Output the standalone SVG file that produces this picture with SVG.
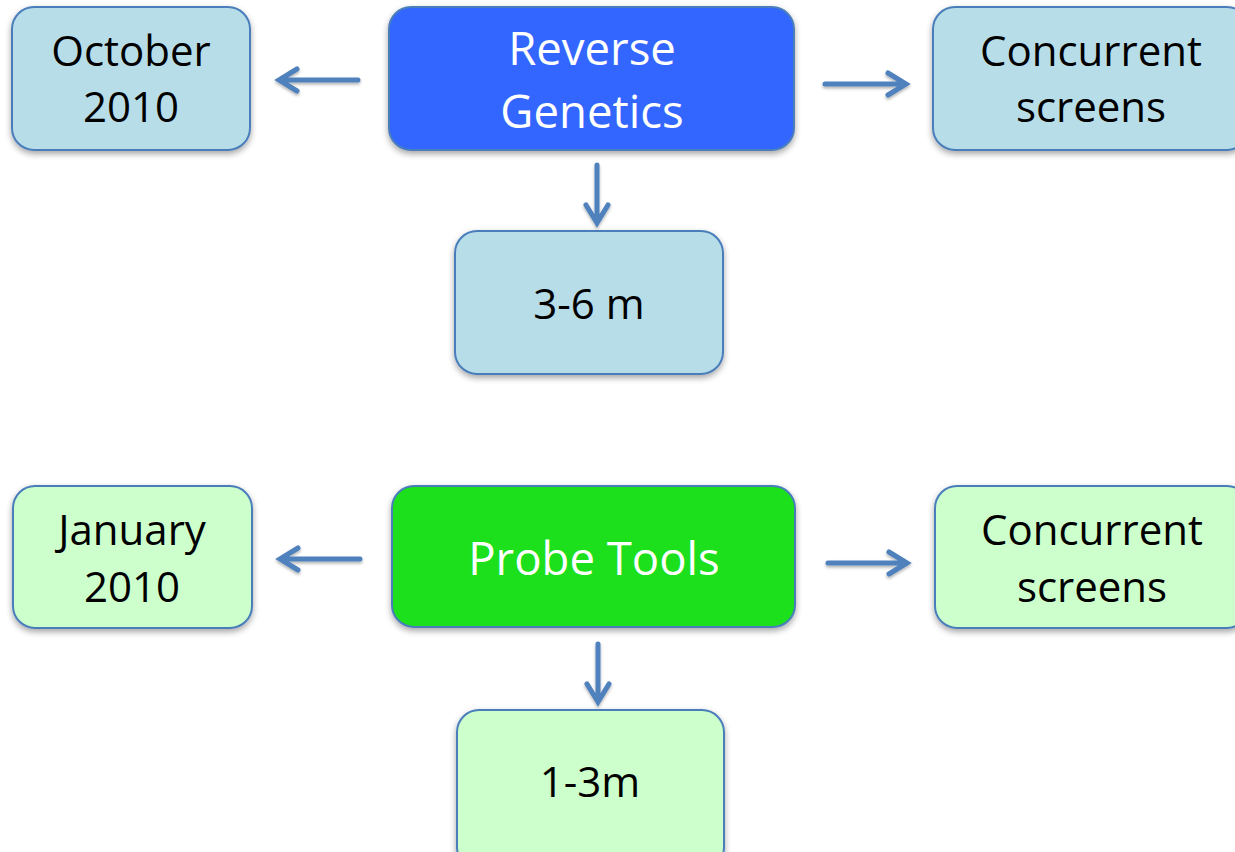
<svg xmlns="http://www.w3.org/2000/svg" width="1235" height="852" viewBox="0 0 1235 852">
<style>
.box{stroke:#4a7ebb;stroke-width:2;filter:url(#sh)}
.lb{fill:#b7dde8}
.lg{fill:#ccffcc}
.t{font-family:"Open Sans","Noto Sans",sans-serif;font-size:42px;fill:#000;text-anchor:middle}
.tm{font-family:"Open Sans","Noto Sans",sans-serif;font-size:45.5px;fill:#fff;text-anchor:middle}
.ar{fill:none;stroke:#4f81bd;stroke-width:5;stroke-linecap:round;stroke-linejoin:miter;filter:url(#sh2)}
</style>
<defs>
<filter id="sh" x="-10%" y="-10%" width="120%" height="130%">
<feDropShadow dx="0" dy="3" stdDeviation="3" flood-color="#000" flood-opacity="0.35"/>
</filter>
<filter id="sh2" x="-20%" y="-20%" width="140%" height="160%">
<feDropShadow dx="0" dy="2" stdDeviation="1.5" flood-color="#000" flood-opacity="0.3"/>
</filter>
</defs>
<rect width="1235" height="852" fill="#fff"/>
<g id="connectors">
<path class="ar" d="M358,80 L280,80 M297,69 L279,80 L297,91"/>
<path class="ar" d="M825,84 L905,84 M888,73 L906,84 L888,95"/>
<path class="ar" d="M597,165 L597,222 M586,205 L597,223 L608,205"/>
<path class="ar" d="M360,559 L281,559 M298,548 L280,559 L298,570"/>
<path class="ar" d="M828,563 L906,563 M889,552 L907,563 L889,574"/>
<path class="ar" d="M598,644 L598,701 M587,684 L598,702 L609,684"/>
</g>
<g id="reverse-genetics">
<rect class="box" x="389" y="7" width="405" height="143" rx="22" fill="#3366ff"/>
<text class="tm" x="592" y="65">Reverse</text>
<text class="tm" x="592" y="128">Genetics</text>
</g>
<g id="october-2010">
<rect class="box lb" x="12" y="7" width="238" height="143" rx="22"/>
<text class="t" x="131" y="66">October</text>
<text class="t" x="131" y="122">2010</text>
</g>
<g id="concurrent-screens-top">
<rect class="box lb" x="933" y="7" width="316" height="143" rx="22"/>
<text class="t" x="1091" y="66">Concurrent</text>
<text class="t" x="1091" y="122">screens</text>
</g>
<g id="three-six-m">
<rect class="box lb" x="455" y="231" width="268" height="143" rx="22"/>
<text class="t" x="589" y="319">3-6 m</text>
</g>
<g id="probe-tools">
<rect class="box" x="392" y="486" width="403" height="141" rx="22" fill="#1ce01c"/>
<text class="tm" x="594" y="575">Probe Tools</text>
</g>
<g id="january-2010">
<rect class="box lg" x="13" y="486" width="239" height="142" rx="22"/>
<text class="t" x="132" y="545">January</text>
<text class="t" x="132" y="602">2010</text>
</g>
<g id="concurrent-screens-bottom">
<rect class="box lg" x="935" y="486" width="314" height="142" rx="22"/>
<text class="t" x="1092" y="545">Concurrent</text>
<text class="t" x="1092" y="602">screens</text>
</g>
<g id="one-three-m">
<rect class="box lg" x="457" y="710" width="267" height="160" rx="22"/>
<text class="t" x="590" y="797">1-3m</text>
</g>
</svg>
